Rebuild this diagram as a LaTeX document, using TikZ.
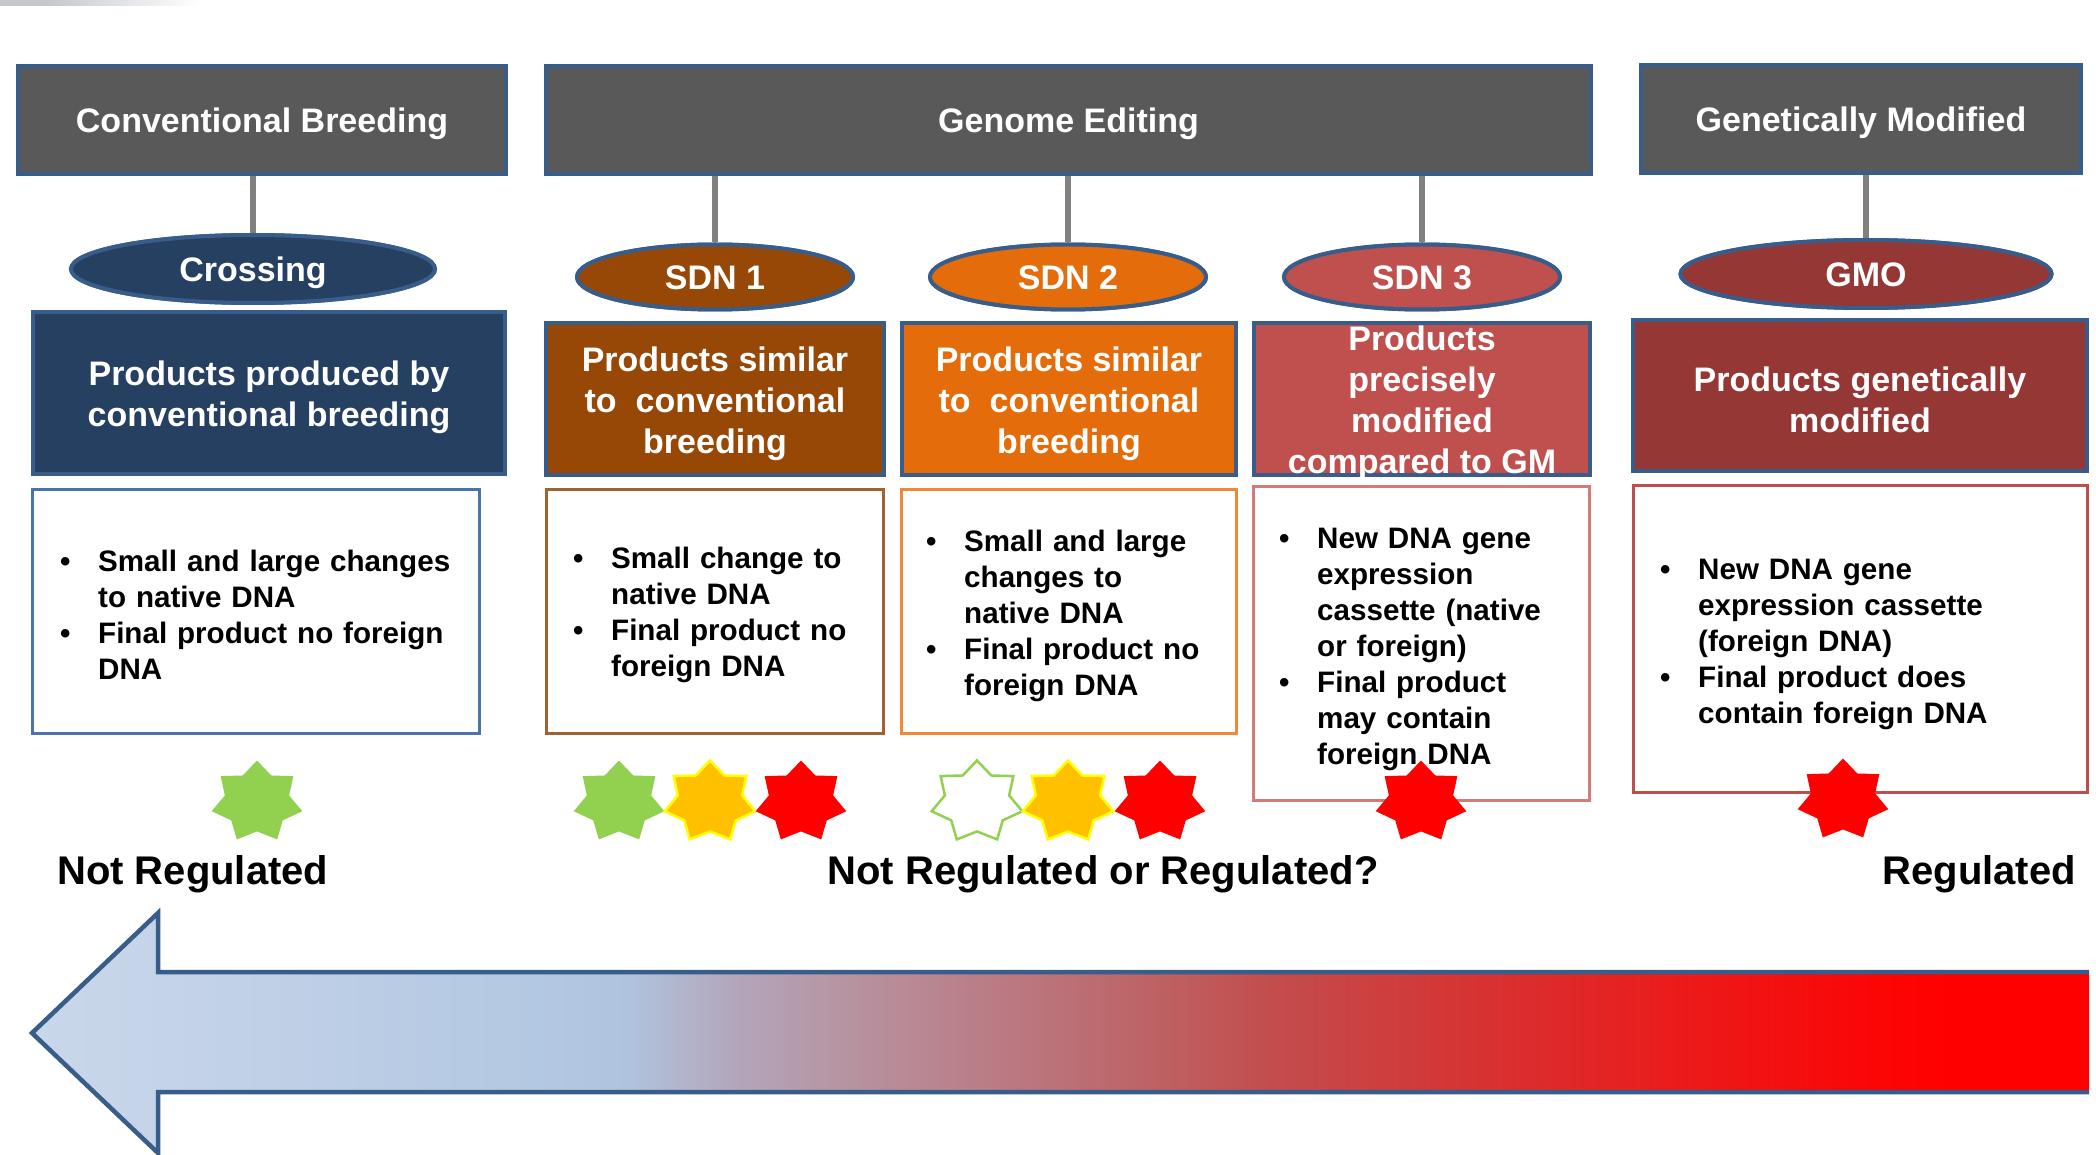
\documentclass[tikz,border=0pt]{standalone}
\usepackage{fontspec}
\setmainfont{Liberation Sans}
\usetikzlibrary{shapes.geometric}
\definecolor{bordblue}{HTML}{385D8A}
\definecolor{hdrgray}{HTML}{595959}
\definecolor{conngray}{HTML}{808080}
\definecolor{navy}{HTML}{254061}
\definecolor{sdnbrown}{HTML}{974806}
\definecolor{sdnorange}{HTML}{E46C0A}
\definecolor{sdnred}{HTML}{C0504D}
\definecolor{gmored}{HTML}{953735}
\definecolor{wblue}{HTML}{4A74A8}
\definecolor{wbrown}{HTML}{A0622F}
\definecolor{worange}{HTML}{F0883A}
\definecolor{wred}{HTML}{D27C79}
\definecolor{wdark}{HTML}{BC4F4D}
\definecolor{sgreen}{HTML}{92D050}
\definecolor{syellow}{HTML}{FFC000}
\definecolor{syline}{HTML}{FFFF00}
\definecolor{sred}{HTML}{FF0000}
\definecolor{bargray}{HTML}{C3C8CE}
\definecolor{ag0}{HTML}{C9D7EB}
\definecolor{ag1}{HTML}{C6D4E9}
\definecolor{ag2}{HTML}{B3C8E2}
\definecolor{ag3}{HTML}{B0C3DE}
\definecolor{ag4}{HTML}{B3A6BA}
\definecolor{ag5}{HTML}{B7909D}
\definecolor{ag6}{HTML}{BA7A83}
\definecolor{ag7}{HTML}{BD6568}
\definecolor{ag8}{HTML}{C34D4D}
\definecolor{ag9}{HTML}{D63333}
\definecolor{ag10}{HTML}{EA1C1C}
\definecolor{ag11}{HTML}{FB0606}
\definecolor{ag12}{HTML}{FF0000}
\pgfdeclarehorizontalshading{arrowgrad}{100bp}{color(0bp)=(ag0); color(25bp)=(ag0); color(27.5bp)=(ag1); color(37.2bp)=(ag2); color(39.5bp)=(ag3); color(42.1bp)=(ag4); color(45.3bp)=(ag5); color(48.6bp)=(ag6); color(51.8bp)=(ag7); color(55.1bp)=(ag8); color(60bp)=(ag9); color(64.8bp)=(ag10); color(69.7bp)=(ag11); color(71.6bp)=(ag12); color(100bp)=(ag12)}
\newcommand\bitem[1]{\hangindent=38pt\hangafter=1\noindent\makebox[38pt][l]{\textbullet}#1\par}
\newcommand\mystar[3]{\begin{scope}[shift={#2},xscale=1.12]\node[star7,#1] (#3) at (0,0) {};\end{scope}}
\begin{document}
\begin{tikzpicture}[x=1pt,y=-1pt,
  hdr/.style={rectangle, draw=bordblue, line width=4.5pt, fill=hdrgray, text=white, font=\fontsize{34}{41}\selectfont\bfseries, inner sep=0pt, minimum height=108pt, text height=24.5pt, text depth=0pt},
  oval/.style={ellipse, draw=bordblue, line width=4pt, text=white, font=\fontsize{34}{41}\selectfont\bfseries, inner sep=0pt, minimum width=276pt, minimum height=65pt, text height=24.5pt, text depth=0pt},
  prod/.style={rectangle, draw=bordblue, line width=4.5pt, inner sep=0pt, minimum height=152pt},
  prodtext/.style={text=white, font=\fontsize{34}{41}\selectfont\bfseries, align=center, inner sep=0pt, yshift=-4.5pt},
  detail/.style={rectangle, line width=3.5pt, fill=white, inner sep=0pt, minimum height=244pt},
  bultext/.style={text width=520pt, font=\fontsize{29.6}{36}\selectfont\bfseries, inner sep=0pt, anchor=base west, text=black},
  conn/.style={draw=conngray, line width=6pt},
  lbl/.style={font=\fontsize{40}{48}\selectfont\bfseries, inner sep=0pt, text=black},
  star7/.style={star, star points=7, star point ratio=1.41, minimum size=83pt, inner sep=0pt, transform shape}
]
\useasboundingbox (0,0) rectangle (2096,1155);
\fill[white] (0,0) rectangle (2096,1155);
% top-left grey bar
\fill[bargray] (0,0) rectangle (45,6);
\shade[left color=bargray, right color=white] (45,0) rectangle (200,6);

% ellipses (placed first for connectors)
\node[oval, fill=navy, minimum width=364pt, minimum height=68pt] (cross) at (253,269) {Crossing};
\node[oval, fill=sdnbrown] (sdn1) at (715,277) {SDN 1};
\node[oval, fill=sdnorange] (sdn2) at (1068,277) {SDN 2};
\node[oval, fill=sdnred] (sdn3) at (1422,277) {SDN 3};
\node[oval, fill=gmored, minimum width=371pt, minimum height=68pt] (gmo) at (1866,274) {GMO};

% headers
\node[hdr, minimum width=488pt] (cb) at (262,120) {Conventional Breeding};
\node[hdr, minimum width=1045pt] (ge) at (1068.5,120) {Genome Editing};
\node[hdr, minimum width=440pt] (gm) at (1861,119) {Genetically Modified};

% connectors
\draw[conn] (cb.south -| cross.north) -- (cross.north);
\draw[conn] (ge.south -| sdn1.north) -- (sdn1.north);
\draw[conn] (ge.south -| sdn2.north) -- (sdn2.north);
\draw[conn] (ge.south -| sdn3.north) -- (sdn3.north);
\draw[conn] (gm.south -| gmo.north) -- (gmo.north);

% redraw ellipses on top of connectors
\node[oval, fill=navy, minimum width=364pt, minimum height=68pt] (crossb) at (cross.center) {Crossing};
\node[oval, fill=sdnbrown] (sdn1b) at (sdn1.center) {SDN 1};
\node[oval, fill=sdnorange] (sdn2b) at (sdn2.center) {SDN 2};
\node[oval, fill=sdnred] (sdn3b) at (sdn3.center) {SDN 3};
\node[oval, fill=gmored, minimum width=371pt, minimum height=68pt] (gmob) at (gmo.center) {GMO};

% product boxes
\node[prod, fill=navy, minimum width=472pt, minimum height=162pt] (p0) at (269,393) {};
\node[prodtext] (p0t) at (p0.center) {Products produced by\\conventional breeding};
\node[prod, fill=sdnbrown, minimum width=338pt] (p1) at (715,399) {};
\node[prodtext] (p1t) at (p1.center) {Products similar\\to\ \ conventional\\breeding};
\node[prod, fill=sdnorange, minimum width=334pt] (p2) at (1069,399) {};
\node[prodtext] (p2t) at (p2.center) {Products similar\\to\ \ conventional\\breeding};
\node[prod, fill=sdnred, minimum width=336pt] (p3) at (1422,399) {};
\node[prodtext] (p3t) at (p3.center) {Products\\precisely\\modified\\compared to GM};
\node[prod, fill=gmored, minimum width=454pt, minimum height=151pt] (p4) at (1860,395.5) {};
\node[prodtext] (p4t) at (p4.center) {Products genetically\\modified};

% detail boxes
\node[detail, draw=wblue, minimum width=447pt] (w0) at (256,611.5) {};
\node[detail, draw=wbrown, minimum width=337pt] (w1) at (715,611.5) {};
\node[detail, draw=worange, minimum width=335pt] (w2) at (1069,611.5) {};
\node[detail, draw=wred, minimum width=336pt, minimum height=314pt] (w3) at (1421.5,643.5) {};
\node[detail, draw=wdark, minimum width=454pt, minimum height=307pt] (w4) at (1860.5,639) {};

\node[bultext] (b0) at (60,571) {\raggedright\bitem{Small and large changes\newline to native DNA}\bitem{Final product no foreign\newline DNA}};
\node[bultext] (b1) at (573,568) {\raggedright\bitem{Small change to\newline native DNA}\bitem{Final product no\newline foreign DNA}};
\node[bultext] (b2) at (926,551) {\raggedright\bitem{Small and large\newline changes to\newline native DNA}\bitem{Final product no\newline foreign DNA}};
\node[bultext] (b3) at (1279,548) {\raggedright\bitem{New DNA gene\newline expression\newline cassette (native\newline or foreign)}\bitem{Final product\newline may contain\newline foreign DNA}};
\node[bultext] (b4) at (1660,579) {\raggedright\bitem{New DNA gene\newline expression cassette\newline (foreign DNA)}\bitem{Final product does\newline contain foreign DNA}};

% stars
\mystar{fill=sgreen}{(257,802)}{s0}
\mystar{fill=sgreen}{(619,802)}{s1a}
\mystar{fill=syellow, draw=syline, line width=2.5pt}{(710,802)}{s1b}
\mystar{fill=sred}{(801,802)}{s1c}
\mystar{fill=white, draw=sgreen, line width=2.5pt}{(977,802)}{s2a}
\mystar{fill=syellow, draw=syline, line width=2.5pt}{(1068,802)}{s2b}
\mystar{fill=sred}{(1160,802)}{s2c}
\mystar{fill=sred}{(1421,802)}{s3}
\mystar{fill=sred}{(1843,800)}{s4}

% labels
\node[lbl, anchor=base west] (nr) at (57,884) {Not Regulated};
\node[lbl, anchor=base] (nrr) at (1103,884) {Not Regulated or Regulated?};
\node[lbl, anchor=base east] (reg) at (2076,884) {Regulated};

% big arrow
\shade[shading=arrowgrad] (32,1033) -- (158,913) -- (158,972) -- (2089,972) -- (2089,1092) -- (158,1092) -- (158,1153) -- cycle;
\draw[bordblue, line width=4.5pt, line join=miter] (2089,972) -- (158,972) -- (158,913) -- (32,1033) -- (158,1153) -- (158,1092) -- (2089,1092);
\end{tikzpicture}
\end{document}
